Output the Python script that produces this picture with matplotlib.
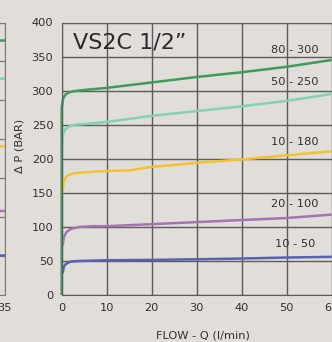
import matplotlib
matplotlib.use('Agg')
import matplotlib.pyplot as plt

# main chart: VS2C 1/2"
green_q = [0, 0, 0.3, 0.8, 1.5, 2.5, 5, 10, 20, 30, 40, 50, 60]
green_p = [0, 275, 288, 294, 297, 299, 301, 304, 312, 320, 327, 335, 345]
teal_q = [0.1, 0.3, 0.8, 1.5, 3, 5, 10, 20, 30, 40, 50, 60]
teal_p = [222, 236, 243, 247, 250, 251, 254, 263, 270, 277, 285, 295]
yellow_q = [0.2, 0.4, 0.8, 1.5, 3, 5, 10, 15, 20, 30, 40, 50, 60]
yellow_p = [150, 165, 172, 176, 179, 180, 182, 183, 188, 194, 199, 205, 211]
purple_q = [0.2, 0.5, 1, 2, 4, 7, 10, 20, 30, 40, 50, 60]
purple_p = [72, 85, 92, 97, 100, 101, 101, 104, 107, 110, 113, 118]
blue_q = [0.2, 0.5, 1, 2, 4, 10, 20, 30, 40, 50, 60]
blue_p = [32, 42, 46, 49, 50, 51, 51.5, 52.5, 53.5, 55, 56]

range_labels = ['10 - 50', '20 - 100', '10 - 180', '50 - 250', '80 - 300']
label_p = [75, 133, 225, 312, 360]

# neighbouring chart, only its right end shows
prev_q = [30, 35]
prev_green = [325, 327]
prev_teal = [277, 278]
prev_yellow = [190, 191]
prev_purple = [107, 108]
prev_blue = [51, 51]

bg = '#e1deda'
grid_c = '#5c5c5c'
text_c = '#303030'
c_green = '#3f9a5c'
c_teal = '#82d2b4'
c_yellow = '#f2c232'
c_purple = '#a573b4'
c_blue = '#5563b0'

fig = plt.figure(figsize=(3.32, 3.42), dpi=100, facecolor=bg)

bottom = 47 / 342
height = 272.5 / 342

# left (cut off) chart
ax0 = fig.add_axes([-0.6, bottom, 0.6136, height])
ax0.set_facecolor(bg)
ax0.set_xlim(0, 35)
ax0.set_ylim(0, 350)
ax0.set_xticks([35])
ax0.set_yticks(range(0, 351, 50))
ax0.set_yticklabels([])
ax0.grid(True, color='#7a7a7a', lw=0.9)
ax0.tick_params(length=0, labelsize=8.2, labelcolor=text_c, pad=6)
for s in ax0.spines.values():
    s.set_color('#7a7a7a')
for p, c in [(prev_blue, c_blue), (prev_purple, c_purple), (prev_yellow, c_yellow),
             (prev_teal, c_teal), (prev_green, c_green)]:
    ax0.plot(prev_q, p, color=c, lw=1.8)

ax = fig.add_axes([61.7 / 332, bottom, 1 - 61.7 / 332, height])
ax.set_facecolor(bg)
ax.set_xlim(0, 60.06)
ax.set_ylim(0, 400)
ax.set_xticks(range(0, 61, 10))
ax.set_yticks(range(0, 401, 50))
ax.grid(True, color=grid_c, lw=1.0)
ax.set_axisbelow(True)
ax.tick_params(length=0, labelsize=8.2, labelcolor=text_c, pad=6)
for s in ax.spines.values():
    s.set_color(grid_c)
ax.spines['right'].set_visible(False)

for q, p, c in [(blue_q, blue_p, c_blue), (purple_q, purple_p, c_purple),
                (yellow_q, yellow_p, c_yellow), (teal_q, teal_p, c_teal),
                (green_q, green_p, c_green)]:
    ax.plot(q, p, color=c, lw=1.8, clip_on=False, solid_capstyle='butt')

for lab, p in zip(range_labels, label_p):
    ax.text(51.8, p, lab, ha='center', va='center', fontsize=8.2, color=text_c)

ax.text(2.4, 371, 'VS2C 1/2\u201d', ha='left', va='center', fontsize=16, color='#2a2a2a')

fig.text(20 / 332, 1 - 146 / 342, '\u0394 P (BAR)', rotation=90, ha='center', va='center',
         fontsize=8.2, color=text_c)
fig.text(203 / 332, 1 - 335 / 342, 'FLOW - Q (l/min)', ha='center', va='center',
         fontsize=8.2, color=text_c)

fig.savefig('out.png', dpi=100, facecolor=bg)
